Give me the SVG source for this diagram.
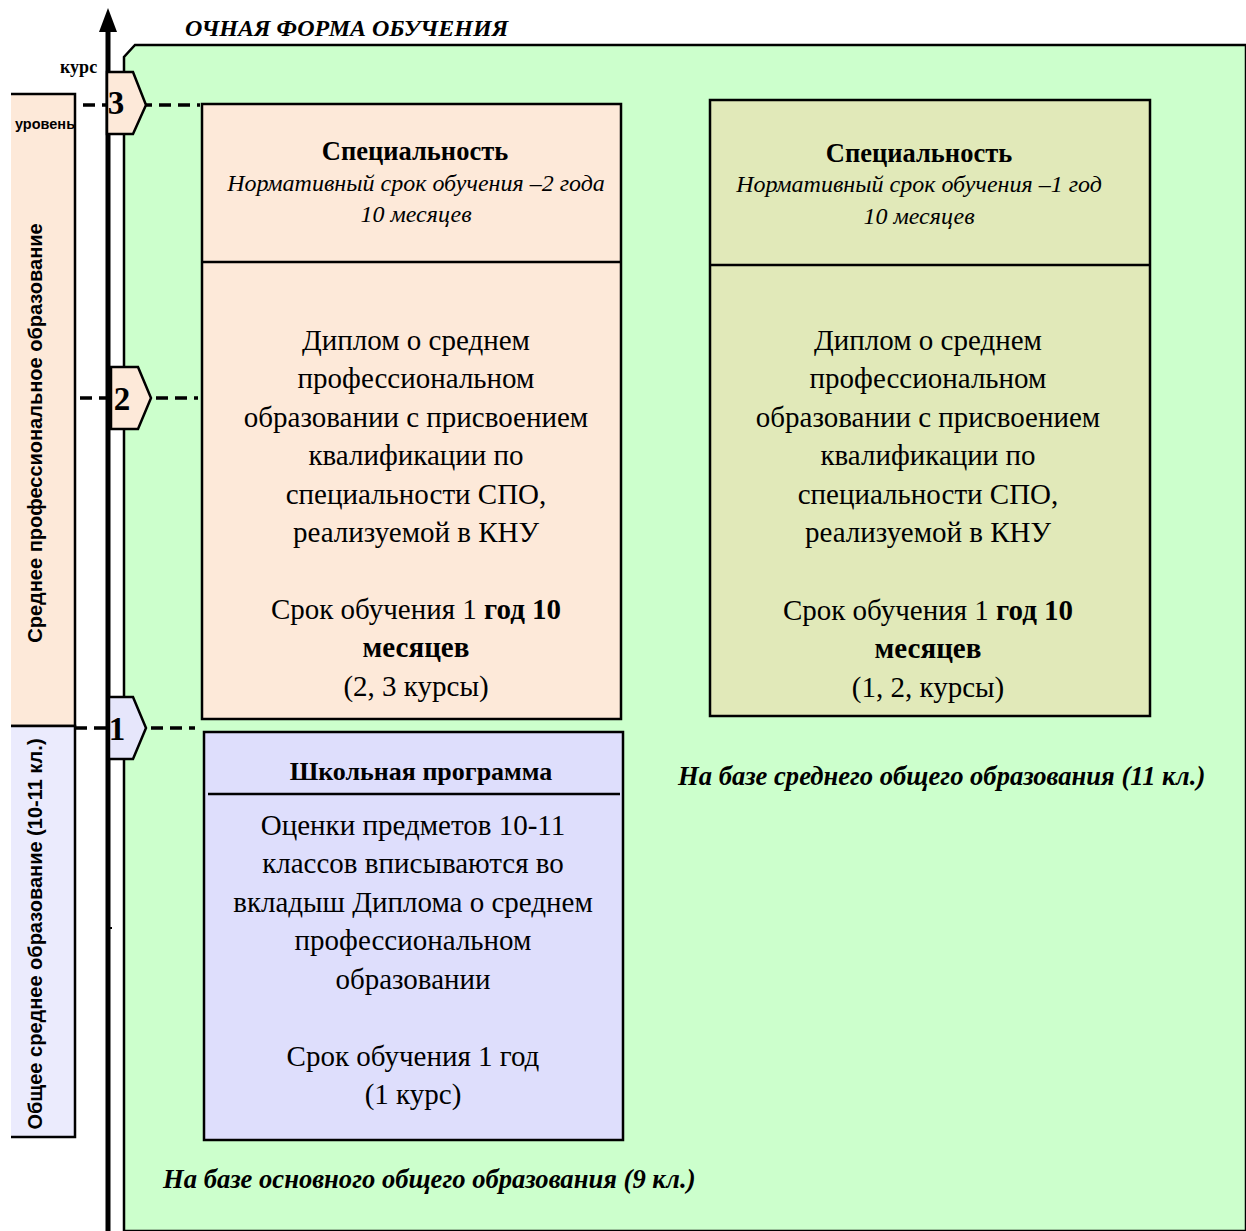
<svg xmlns="http://www.w3.org/2000/svg" width="1246" height="1231" viewBox="0 0 1246 1231">
<style>
.ser{font-family:"Liberation Serif","Times New Roman",serif;fill:#000}
.sans{font-family:"Liberation Sans",Arial,sans-serif;font-weight:bold;fill:#000}
.box{stroke:#000;stroke-width:2.5}
.div{stroke:#000;stroke-width:2.5}
.dash{stroke:#000;stroke-width:3.5;stroke-dasharray:12 7;fill:none}
.mk{stroke:#000;stroke-width:2.5}
.h{font-weight:bold;font-size:26.5px}
.it{font-style:italic;font-size:24px}
.body{font-size:29px}
.lbl{font-style:italic;font-weight:bold;font-size:26.6px}
.num{font-size:33px;font-weight:bold}
</style>
<rect width="1246" height="1231" fill="#fff"/>
<g id="background">
<path d="M1246,45 L135,45 L124,57 L124,1231 L1246,1231 Z" fill="#CCFFCC" stroke="#000" stroke-width="2.5"/>
</g>
<text class="ser" x="185" y="36" font-size="24" font-style="italic" font-weight="bold">ОЧНАЯ ФОРМА ОБУЧЕНИЯ</text>
<g id="levels">
<path d="M11,94 L75,94 L75,726 L11,726" fill="#FDE9D9" stroke="#000" stroke-width="2.5"/>
<path d="M11,726 L75,726 L75,1137 L11,1137" fill="#EBEBFD" stroke="#000" stroke-width="2.5"/>
<text class="sans" x="15" y="129" font-size="14.5">уровень</text>
<text class="sans" font-size="20" text-anchor="middle" transform="translate(42,433) rotate(-90)">Среднее профессиональное образование</text>
<text class="sans" font-size="20" text-anchor="middle" transform="translate(42,934) rotate(-90)">Общее среднее образование (10-11 кл.)</text>
</g>
<g id="axis">
<line x1="108" y1="1231" x2="108" y2="28" stroke="#000" stroke-width="5"/>
<polygon points="108,8 117,32 99,32" fill="#000"/>
<line x1="108" y1="928" x2="112" y2="928" stroke="#000" stroke-width="2"/>
<text class="ser" x="60" y="73" font-size="18" font-weight="bold">курс</text>
</g>
<g id="connectors">
<line class="dash" x1="83" y1="105" x2="200" y2="105"/>
<line class="dash" x1="80" y1="398" x2="198" y2="398"/>
<line class="dash" x1="75" y1="728" x2="195" y2="728"/>
</g>
<g id="marker3">
<polygon class="mk" points="107,72 133,72 146,105 133,134 107,134" fill="#FDE9D9"/>
<text class="ser num" x="116" y="114" text-anchor="middle">3</text>
</g>
<g id="marker2">
<polygon class="mk" points="111,367 138,367 151,398 138,429 111,429" fill="#FDE9D9"/>
<text class="ser num" x="122" y="410" text-anchor="middle">2</text>
</g>
<g id="marker1">
<polygon class="mk" points="109,697 133,697 146,728 133,759 109,759" fill="#E6E6FB"/>
<text class="ser num" x="117" y="740" text-anchor="middle">1</text>
</g>
<g id="boxA">
<rect class="box" x="202" y="104" width="419" height="615" fill="#FDE9D9"/>
<line class="div" x1="202" y1="262" x2="621" y2="262"/>
<g class="ser" text-anchor="middle">
<text class="h" x="415" y="160">Специальность</text>
<text class="it" x="416" y="191">Нормативный срок обучения –2 года</text>
<text class="it" x="416" y="222">10 месяцев</text>
<text class="body" x="416" y="350">Диплом о среднем</text>
<text class="body" x="416" y="388">профессиональном</text>
<text class="body" x="416" y="427">образовании с присвоением</text>
<text class="body" x="416" y="465">квалификации по</text>
<text class="body" x="416" y="504">специальности СПО,</text>
<text class="body" x="416" y="542">реализуемой в КНУ</text>
<text class="body" x="416" y="619">Срок обучения 1 <tspan font-weight="bold">год 10</tspan></text>
<text class="body" x="416" y="657" font-weight="bold">месяцев</text>
<text class="body" x="416" y="696">(2, 3 курсы)</text>
</g>
</g>
<g id="boxB">
<rect class="box" x="710" y="100" width="440" height="616" fill="#E1E9B9"/>
<line class="div" x1="710" y1="265" x2="1150" y2="265"/>
<g class="ser" text-anchor="middle">
<text class="h" x="919" y="162">Специальность</text>
<text class="it" x="919" y="192">Нормативный срок обучения –1 год</text>
<text class="it" x="919" y="224">10 месяцев</text>
<text class="body" x="928" y="350">Диплом о среднем</text>
<text class="body" x="928" y="388">профессиональном</text>
<text class="body" x="928" y="427">образовании с присвоением</text>
<text class="body" x="928" y="465">квалификации по</text>
<text class="body" x="928" y="504">специальности СПО,</text>
<text class="body" x="928" y="542">реализуемой в КНУ</text>
<text class="body" x="928" y="620">Срок обучения 1 <tspan font-weight="bold">год 10</tspan></text>
<text class="body" x="928" y="658" font-weight="bold">месяцев</text>
<text class="body" x="928" y="697">(1, 2, курсы)</text>
</g>
</g>
<g id="boxC">
<rect class="box" x="204" y="732" width="419" height="408" fill="#DEDEFC"/>
<line class="div" x1="208" y1="794" x2="620" y2="794"/>
<g class="ser" text-anchor="middle">
<text x="421" y="780" font-size="26" font-weight="bold">Школьная программа</text>
<text class="body" x="413" y="835">Оценки предметов 10-11</text>
<text class="body" x="413" y="873">классов вписываются во</text>
<text class="body" x="413" y="912">вкладыш Диплома о среднем</text>
<text class="body" x="413" y="950">профессиональном</text>
<text class="body" x="413" y="989">образовании</text>
<text class="body" x="413" y="1066">Срок обучения 1 год</text>
<text class="body" x="413" y="1104">(1 курс)</text>
</g>
</g>
<text class="ser lbl" x="678" y="785">На базе среднего общего образования (11 кл.)</text>
<text class="ser lbl" x="163" y="1188">На базе основного общего образования (9 кл.)</text>
</svg>
